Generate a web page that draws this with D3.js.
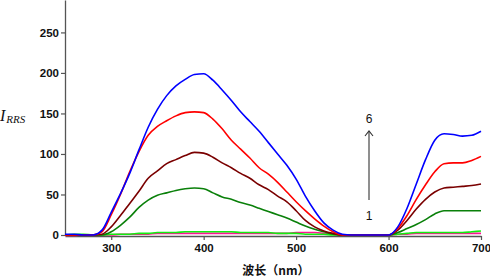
<!DOCTYPE html>
<html><head><meta charset="utf-8">
<script src="https://cdn.jsdelivr.net/npm/d3@7"></script>
<style>body{margin:0;background:#fff}svg{display:block}</style>
</head><body>
<svg id="c" width="490" height="278"></svg>
<script>
const wavelengths = d3.range(250, 701, 10);
const xTicks = [300, 400, 500, 600, 700];
const yTicks = [0, 50, 100, 150, 200, 250];
const seriesNames = ["6", "5", "4", "3", "2", "1"];
const seriesColors = ["#0000ff", "#ff0000", "#7a0000", "#0a800a", "#11ee11", "#ff1493"];
const s6 = [1,1,0,0,6,28,51,76,105,133,155,172,184,192,198,199,191,179,166,152,140,128,114,100,86,69,48,30,15,6,1,0,0,0,0,0,10,33,63,93,117,125,124,122,123,128];
const s5 = [0,0,0,0,4,25,50,78,103,123,134,141,147,151,152,151,143,131,117,106,95,83,75,65,53,41,30,20,11,4,0,0,0,0,0,0,8,24,44,62,78,88,89,89,92,97];
const s4 = [0,0,0,0,1,10,24,39,54,70,79,88,93,98,102,101,96,89,83,76,70,62,56,48,41,30,18,10,5,2,0,0,0,0,0,0,6,18,32,44,53,58,59,60,61,63];
const s3 = [0,0,0,0,0,4,12,22,34,43,49,52,55,57,58,57,52,47,44,40,37,33,29,25,21,16,11,7,4,1,0,0,0,0,0,0,3,8,13,19,26,30,30,30,30,30];
const s2 = [0,1,1,0,0,1,1,1,2,2,3,3,3,4,4,4,4,4,4,3,3,3,3,2,2,2,1,1,1,0,0,0,0,0,0,0,1,2,3,3,3,3,3,3,4,5];
const s1 = [-0.5,-0.5,0,0,0,0,1,1,1,1,2,2,2,2,2,2,2,2,2,2,2,2,2,2,2,3,3,3,2,1,0,0,0,0,0,0,1,1,2,2,2,2,2,2,2,2];
const seriesValues = [s6, s5, s4, s3, s2, s1];

const svg = d3.select("#c");
const x = d3.scaleLinear().domain([250, 700]).range([65, 481]);
const y = d3.scaleLinear().domain([0, 290]).range([235, 0]);

const axisColor = "#555";
const gx = svg.append("g").attr("transform", "translate(0,236)")
  .call(d3.axisBottom(x).tickValues(xTicks).tickSize(4).tickSizeOuter(0).tickPadding(4));
const gy = svg.append("g").attr("transform", "translate(65,0)")
  .call(d3.axisLeft(y).tickValues(yTicks).tickSize(4).tickSizeOuter(0).tickPadding(2));
[gx, gy].forEach(g => {
  g.select(".domain").attr("stroke", axisColor).attr("stroke-width", 1.3);
  g.selectAll(".tick line").attr("stroke", axisColor).attr("stroke-width", 1.2);
  g.selectAll(".tick text").attr("fill", "#111").attr("font-family", "Liberation Sans, Arial, sans-serif")
    .attr("font-size", 11.5).attr("font-weight", "bold");
});

const line = d3.line().x((d, i) => x(wavelengths[i])).y(d => y(d)).curve(d3.curveMonotoneX);
for (let k = seriesValues.length - 1; k >= 0; k--) {
  svg.append("path").datum(seriesValues[k]).attr("d", line)
    .attr("fill", "none").attr("stroke", seriesColors[k]).attr("stroke-width", 1.6)
    .attr("stroke-linejoin", "round");
}

// y label
const yl = svg.append("text").attr("x", 0).attr("y", 121)
  .attr("font-family", "Liberation Serif, Times New Roman, serif").attr("font-style", "italic").attr("fill", "#111");
yl.append("tspan").attr("font-size", 16).text("I");
yl.append("tspan").attr("font-size", 11).attr("dy", 2).attr("dx", 1).text("RRS");

// x label
svg.append("text").attr("x", 276).attr("y", 275).attr("text-anchor", "middle")
  .attr("font-family", "Noto Sans CJK SC, sans-serif").attr("font-size", 12).attr("font-weight", "bold")
  .attr("fill", "#111").text("波长（nm）");

// arrow annotation
const ax = 369;
svg.append("line").attr("x1", ax).attr("x2", ax).attr("y1", 200).attr("y2", 131)
  .attr("stroke", "#333").attr("stroke-width", 1.1);
svg.append("path").attr("d", `M${ax-4},${136} L${ax},${131} L${ax+4},${136}`)
  .attr("fill", "none").attr("stroke", "#333").attr("stroke-width", 1.1);
svg.append("text").attr("x", ax).attr("y", 123).attr("text-anchor", "middle")
  .attr("font-family", "Liberation Sans, Arial, sans-serif").attr("font-size", 12).attr("fill", "#111").text(seriesNames[0]);
svg.append("text").attr("x", ax).attr("y", 220).attr("text-anchor", "middle")
  .attr("font-family", "Liberation Sans, Arial, sans-serif").attr("font-size", 12).attr("fill", "#111").text(seriesNames[5]);
</script>
</body></html>
